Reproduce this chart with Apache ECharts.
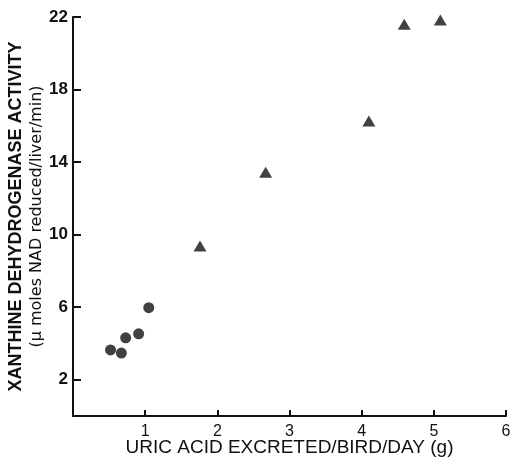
<!DOCTYPE html>
<html>
<head>
<meta charset="utf-8">
<script src="https://cdn.jsdelivr.net/npm/echarts@6/dist/echarts.min.js"></script>
<style>
  html, body { margin: 0; padding: 0; background: #fff; }
  #chart { width: 510px; height: 461px; }
</style>
</head>
<body>
<div id="chart"></div>
<script>
// circles: low uric acid excretion
var circleX = [0.52, 0.67, 0.73, 0.91, 1.05];
var circleY = [3.64, 3.47, 4.31, 4.53, 5.97];

// triangles
var triX = [1.76, 2.67, 4.10, 4.59, 5.09];
var triY = [9.37, 13.44, 16.27, 21.6, 21.83];

// tick labels
var xTicks = [1, 2, 3, 4, 5, 6];
var yTicks = [2, 6, 10, 14, 18, 22];

function pairs(xs, ys) {
    return xs.map(function (x, i) { return [x, ys[i]]; });
}

var ink = '#111';
var myChart = echarts.init(document.getElementById('chart'));

myChart.setOption({
    animation: false,
    backgroundColor: '#fff',
    grid: {
        left: 73,
        right: 4,
        top: 17,
        bottom: 45,
        outerBoundsMode: 'none'
    },
    xAxis: {
        type: 'value',
        min: 0,
        max: 6,
        name: 'URIC ACID EXCRETED/BIRD/DAY (g)',
        nameLocation: 'middle',
        nameGap: 22,
        nameMoveOverlap: false,
        nameTextStyle: {
            fontFamily: 'Liberation Sans',
            fontSize: 19,
            color: ink
        },
        splitLine: { show: false },
        axisLine: {
            lineStyle: { color: ink, width: 2 }
        },
        axisTick: {
            inside: true,
            length: 6,
            customValues: xTicks,
            lineStyle: { color: ink, width: 2 }
        },
        axisLabel: {
            customValues: xTicks,
            margin: 8,
            fontFamily: 'Liberation Sans',
            fontSize: 16,
            color: ink
        }
    },
    yAxis: {
        type: 'value',
        min: 0,
        max: 22,
        name: '{a|XANTHINE DEHYDROGENASE ACTIVITY}\n{b|(\u03bc moles NAD reduced/liver/min)}',
        nameLocation: 'middle',
        nameRotate: 90,
        nameGap: 27,
        nameMoveOverlap: false,
        nameTextStyle: {
            color: ink,
            rich: {
                a: {
                    fontFamily: 'Liberation Sans',
                    fontWeight: 'bold',
                    fontSize: 18,
                    color: ink,
                    lineHeight: 22
                },
                b: {
                    fontFamily: 'DejaVu Sans',
                    fontSize: 16,
                    color: ink,
                    lineHeight: 19
                }
            }
        },
        splitLine: { show: false },
        axisLine: {
            lineStyle: { color: ink, width: 2 }
        },
        axisTick: {
            inside: true,
            length: 8,
            customValues: yTicks,
            lineStyle: { color: ink, width: 2 }
        },
        axisLabel: {
            customValues: yTicks,
            margin: 5,
            fontFamily: 'Liberation Sans',
            fontWeight: 'bold',
            fontSize: 17,
            color: ink
        }
    },
    series: [
        {
            name: 'circles',
            type: 'scatter',
            symbol: 'circle',
            symbolSize: 11,
            itemStyle: { color: ink },
            data: pairs(circleX, circleY)
        },
        {
            name: 'triangles',
            type: 'scatter',
            symbol: 'triangle',
            symbolSize: [13, 11],
            itemStyle: { color: ink },
            data: pairs(triX, triY)
        }
    ]
});
</script>
</body>
</html>
